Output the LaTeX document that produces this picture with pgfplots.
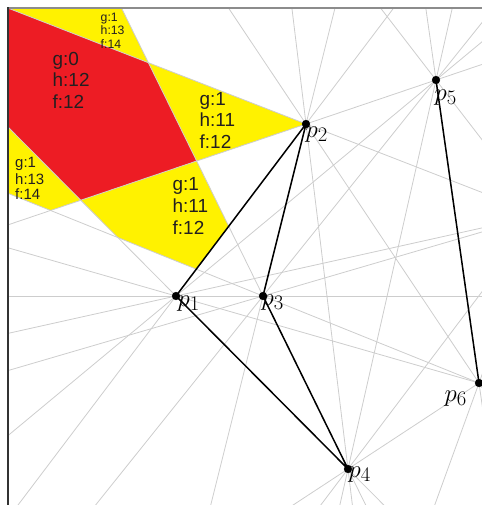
\documentclass[border=0pt]{standalone}
\usepackage{pgfplots}
\pgfplotsset{compat=1.18}
\usepackage{fontspec}
\setmainfont{Liberation Sans}
\definecolor{facered}{RGB}{237,28,36}
\definecolor{faceyellow}{RGB}{255,242,0}
\definecolor{linegray}{RGB}{205,205,205}
\definecolor{labeltext}{RGB}{35,31,32}

\tikzset{
  arrline/.style={linegray, line width=0.8bp, shorten <=-900bp, shorten >=-900bp},
  edge/.style={black, line width=1.5bp},
  big/.style={anchor=base west, inner sep=0pt, text=labeltext, font=\fontsize{19}{21}\selectfont},
  mid/.style={anchor=base west, inner sep=0pt, text=labeltext, font=\fontsize{15}{16}\selectfont},
  small/.style={anchor=base west, inner sep=0pt, text=labeltext, font=\fontsize{12.3}{14}\selectfont},
  plab/.style={inner sep=0pt, font=\fontsize{31.5}{32}\selectfont},
}

\begin{document}
\begin{tikzpicture}
\useasboundingbox (0,0) rectangle (482bp,505bp);
\begin{axis}[
  at={(8bp,0bp)}, anchor=south west,
  scale only axis, width=474bp, height=497bp,
  xmin=8, xmax=482, ymin=8, ymax=505, y dir=reverse,
  hide axis, clip=true,
]
% faces of the arrangement
\addplot[fill=facered, draw=none] coordinates {(8,8.1) (148.38,62.70) (196.67,161.00) (80.78,200.23) (8,127.0)} -- cycle;
\addplot[fill=faceyellow, draw=none] coordinates {(7.7,8) (121.5,8) (148.38,62.70) (8,8.1)} -- cycle;
\addplot[fill=faceyellow, draw=none] coordinates {(148.38,62.70) (306,124) (196.67,161.00)} -- cycle;
\addplot[fill=faceyellow, draw=none] coordinates {(80.78,200.23) (196.67,161.00) (228.73,226.24) (196.30,269.13) (117.89,237.55)} -- cycle;
\addplot[fill=faceyellow, draw=none] coordinates {(8,127.0) (80.78,200.23) (50.59,210.45) (8,193.3)} -- cycle;

% lines through every pair of points
\addplot[arrline] coordinates {(176,296) (306,124)};
\addplot[arrline] coordinates {(176,296) (263,296)};
\addplot[arrline] coordinates {(176,296) (348,469)};
\addplot[arrline] coordinates {(176,296) (436,80)};
\addplot[arrline] coordinates {(176,296) (479,383)};
\addplot[arrline] coordinates {(176,296) (540,215)};
\addplot[arrline] coordinates {(306,124) (263,296)};
\addplot[arrline] coordinates {(306,124) (348,469)};
\addplot[arrline] coordinates {(306,124) (436,80)};
\addplot[arrline] coordinates {(306,124) (479,383)};
\addplot[arrline] coordinates {(306,124) (540,215)};
\addplot[arrline] coordinates {(263,296) (348,469)};
\addplot[arrline] coordinates {(263,296) (436,80)};
\addplot[arrline] coordinates {(263,296) (479,383)};
\addplot[arrline] coordinates {(263,296) (540,215)};
\addplot[arrline] coordinates {(348,469) (436,80)};
\addplot[arrline] coordinates {(348,469) (479,383)};
\addplot[arrline] coordinates {(348,469) (540,215)};
\addplot[arrline] coordinates {(436,80) (479,383)};
\addplot[arrline] coordinates {(436,80) (540,215)};
\addplot[arrline] coordinates {(479,383) (540,215)};

% polygon edges
\addplot[edge] coordinates {(176,296) (306,124) (263,296) (348,469) (176,296)};
\addplot[edge] coordinates {(436,80) (479,383)};

% points
\addplot[only marks, mark=*, mark size=3.9bp, black] coordinates {(176,296) (306,124) (263,296) (348,469) (436,80) (479,383)};

% face labels
\node[big] at (axis cs:52.5,65.1) {g:0};
\node[big] at (axis cs:52.5,86.8) {h:12};
\node[big] at (axis cs:52.5,108.5) {f:12};
\node[big] at (axis cs:199.5,105.1) {g:1};
\node[big] at (axis cs:199.5,126.8) {h:11};
\node[big] at (axis cs:199.5,148.5) {f:12};
\node[big] at (axis cs:172.5,190) {g:1};
\node[big] at (axis cs:172.5,212) {h:11};
\node[big] at (axis cs:172.5,234) {f:12};
\node[small] at (axis cs:100.5,21.1) {g:1};
\node[small] at (axis cs:100.5,34.9) {h:13};
\node[small] at (axis cs:100.5,48.7) {f:14};
\node[mid] at (axis cs:15,167.2) {g:1};
\node[mid] at (axis cs:15,184.5) {h:13};
\node[mid] at (axis cs:15,199.8) {f:14};

% point labels
\node[plab, anchor=base west] at (axis cs:177.5,306) {$p_1$};
\node[plab, anchor=base west] at (axis cs:305.5,137) {$p_2$};
\node[plab, anchor=base west] at (axis cs:261.5,305) {$p_3$};
\node[plab, anchor=base west] at (axis cs:348.5,477) {$p_4$};
\node[plab, anchor=base west] at (axis cs:434.5,100) {$p_5$};
\node[plab, anchor=base east] at (axis cs:467,401) {$p_6$};
\end{axis}
% frame along the top and left sides
\draw[black!45, line width=1.6bp] (8bp,497bp) -- (482bp,497bp);
\draw[black!80, line width=1.4bp] (8bp,0bp) -- (8bp,497.8bp);
\end{tikzpicture}
\end{document}
